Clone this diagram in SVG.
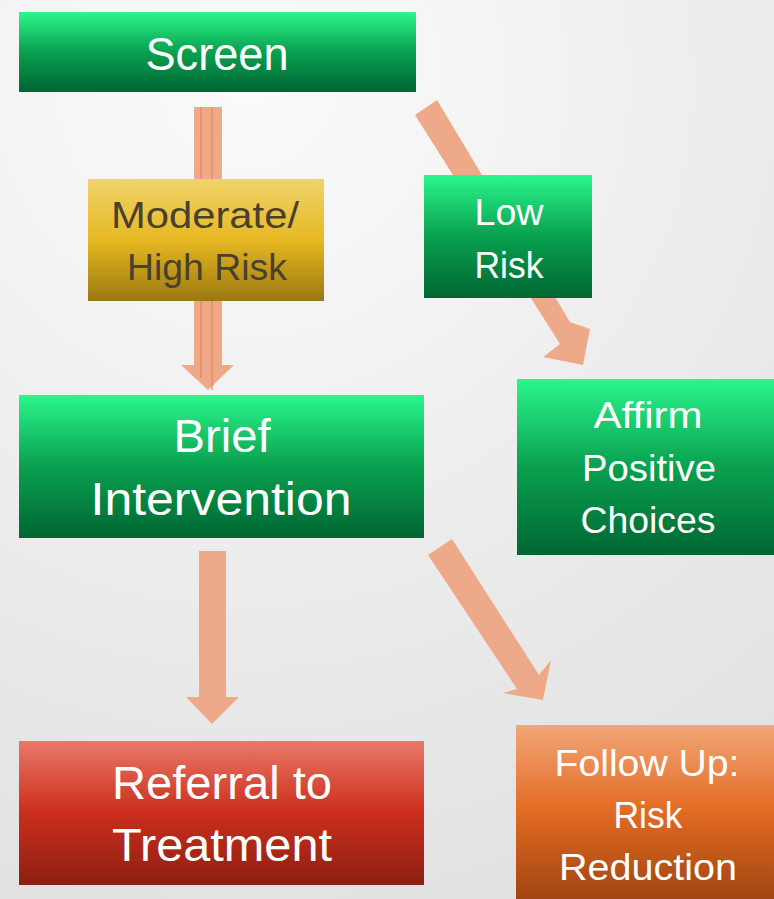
<svg xmlns="http://www.w3.org/2000/svg" width="774" height="899" viewBox="0 0 774 899">
<defs>
<radialGradient id="bg" cx="250" cy="80" r="900" gradientUnits="userSpaceOnUse">
<stop offset="0" stop-color="#fbfbfb"/>
<stop offset="1" stop-color="#e0e0e0"/>
</radialGradient>
<linearGradient id="green" x1="0" y1="0" x2="0" y2="1">
<stop offset="0" stop-color="#2bf68c"/>
<stop offset="0.5" stop-color="#09a04f"/>
<stop offset="1" stop-color="#016632"/>
</linearGradient>
<linearGradient id="gold" x1="0" y1="0" x2="0" y2="1">
<stop offset="0" stop-color="#f0d46a"/>
<stop offset="0.5" stop-color="#e6b822"/>
<stop offset="1" stop-color="#9a7810"/>
</linearGradient>
<linearGradient id="red" x1="0" y1="0" x2="0" y2="1">
<stop offset="0" stop-color="#ea7868"/>
<stop offset="0.5" stop-color="#cb2e1c"/>
<stop offset="1" stop-color="#8c2012"/>
</linearGradient>
<linearGradient id="orange" x1="0" y1="0" x2="0" y2="1">
<stop offset="0" stop-color="#f2a678"/>
<stop offset="0.5" stop-color="#e26a22"/>
<stop offset="1" stop-color="#a04512"/>
</linearGradient>
</defs>
<style>
.arrow{fill:#eeaa88;}
.line{stroke:#e8845a;stroke-width:1.2;fill:none;}
text{font-family:"Liberation Sans",Arial,sans-serif;text-anchor:middle;fill:#ffffff;}
.big{font-size:46px;}
.med{font-size:37px;}
.dark{fill:#4a4030;}
</style>
<rect x="0" y="0" width="774" height="899" fill="url(#bg)"/>
<g id="connectors">
<g id="arrow-screen-brief">
<polygon class="arrow" points="194,107 222,107 222,365 234,365 208,390 181,365 194,365"/>
<line class="line" x1="201" y1="107" x2="201" y2="378"/>
<line class="line" x1="212" y1="107" x2="212" y2="390"/>
</g>
<polygon id="arrow-screen-low" class="arrow" points="415,115 437,100 570,322 590,329 583,365 543,357 560,344"/>
<polygon id="arrow-brief-referral" class="arrow" points="199,551 226,551 226,697 239,697 212,724 186,697 199,697"/>
<polygon id="arrow-brief-follow" class="arrow" points="428,555 452,539 539,675 551,660 543,700 503,693 517,689"/>
</g>
<g id="screen">
<rect x="19" y="12" width="397" height="80" fill="url(#green)"/>
<text class="big" x="217" y="70" textLength="143" lengthAdjust="spacingAndGlyphs">Screen</text>
</g>
<g id="moderate-high-risk">
<rect x="88" y="179" width="236" height="122" fill="url(#gold)"/>
<text class="med dark" x="205" y="228" textLength="188" lengthAdjust="spacingAndGlyphs">Moderate/</text>
<text class="med dark" x="207" y="280" textLength="160" lengthAdjust="spacingAndGlyphs">High Risk</text>
</g>
<g id="low-risk">
<rect x="424" y="175" width="168" height="123" fill="url(#green)"/>
<text class="med" x="509" y="225" textLength="69" lengthAdjust="spacingAndGlyphs">Low</text>
<text class="med" x="509" y="278" textLength="69" lengthAdjust="spacingAndGlyphs">Risk</text>
</g>
<g id="affirm">
<rect x="517" y="379" width="257" height="176" fill="url(#green)"/>
<text class="med" x="648" y="428" textLength="109" lengthAdjust="spacingAndGlyphs">Affirm</text>
<text class="med" x="649" y="481" textLength="134" lengthAdjust="spacingAndGlyphs">Positive</text>
<text class="med" x="648" y="533" textLength="135" lengthAdjust="spacingAndGlyphs">Choices</text>
</g>
<g id="brief-intervention">
<rect x="19" y="395" width="405" height="143" fill="url(#green)"/>
<text class="big" x="222" y="452" textLength="97" lengthAdjust="spacingAndGlyphs">Brief</text>
<text class="big" x="221" y="515" textLength="261" lengthAdjust="spacingAndGlyphs">Intervention</text>
</g>
<g id="referral">
<rect x="19" y="741" width="405" height="144" fill="url(#red)"/>
<text class="big" x="222" y="799" textLength="220" lengthAdjust="spacingAndGlyphs">Referral to</text>
<text class="big" x="222" y="861" textLength="220" lengthAdjust="spacingAndGlyphs">Treatment</text>
</g>
<g id="follow-up">
<rect x="516" y="725" width="258" height="174" fill="url(#orange)"/>
<text class="med" x="647" y="776" textLength="185" lengthAdjust="spacingAndGlyphs">Follow Up:</text>
<text class="med" x="648" y="828" textLength="69" lengthAdjust="spacingAndGlyphs">Risk</text>
<text class="med" x="648" y="880" textLength="178" lengthAdjust="spacingAndGlyphs">Reduction</text>
</g>
</svg>
